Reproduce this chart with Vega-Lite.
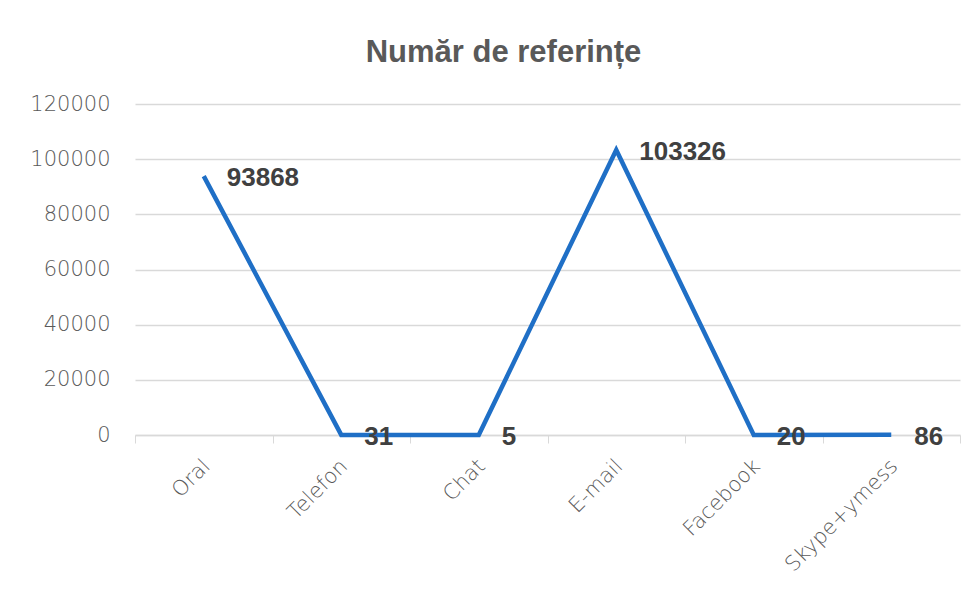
{
  "$schema": "https://vega.github.io/schema/vega-lite/v6.json",
  "autosize": "none",
  "width": 825,
  "height": 331,
  "padding": {"left": 135, "top": 104, "right": 18, "bottom": 154},
  "background": "white",
  "title": {
    "text": "Număr de referințe",
    "font": "Liberation Sans",
    "fontSize": 31,
    "fontWeight": "bold",
    "color": "#595959",
    "anchor": "middle",
    "dx": -44,
    "offset": 24
  },
  "data": {
    "values": [
      {"canal": "Oral", "numar": 93868},
      {"canal": "Telefon", "numar": 31},
      {"canal": "Chat", "numar": 5},
      {"canal": "E-mail", "numar": 103326},
      {"canal": "Facebook", "numar": 20},
      {"canal": "Skype+ymess", "numar": 86}
    ]
  },
  "encoding": {
    "x": {
      "field": "canal",
      "type": "nominal",
      "sort": null,
      "scale": {"paddingInner": 0, "paddingOuter": 0},
      "axis": {
        "title": null,
        "labelAngle": -45,
        "labelAlign": "right",
        "labelBaseline": "top",
        "labelPadding": 12,
        "labelOffset": -5,
        "labelFont": "DejaVu Sans",
        "labelFontWeight": 200,
        "labelFontSize": 21,
        "labelColor": "#595959",
        "domainColor": "#d9d9d9",
        "domainWidth": 1.5,
        "tickColor": "#d9d9d9",
        "tickBand": "extent",
        "tickSize": 8,
        "grid": false
      }
    },
    "y": {
      "field": "numar",
      "type": "quantitative",
      "scale": {"domain": [0, 120000], "nice": false},
      "axis": {
        "title": null,
        "values": [0, 20000, 40000, 60000, 80000, 100000, 120000],
        "format": "d",
        "labelFont": "DejaVu Sans",
        "labelFontWeight": 200,
        "labelFontSize": 21,
        "labelColor": "#595959",
        "labelPadding": 25,
        "ticks": false,
        "domain": false,
        "gridColor": "#d9d9d9",
        "gridWidth": 1.5
      }
    }
  },
  "layer": [
    {
      "mark": {"type": "line", "color": "#1f6fc6", "strokeWidth": 4.5, "strokeJoin": "miter"}
    },
    {
      "mark": {
        "type": "text",
        "align": "left",
        "baseline": "middle",
        "dx": 23,
        "dy": 2,
        "font": "Liberation Sans",
        "fontSize": 26,
        "fontWeight": "bold",
        "color": "#404040"
      },
      "encoding": {"text": {"field": "numar", "type": "quantitative", "format": "d"}}
    }
  ],
  "config": {"view": {"stroke": null}}
}
